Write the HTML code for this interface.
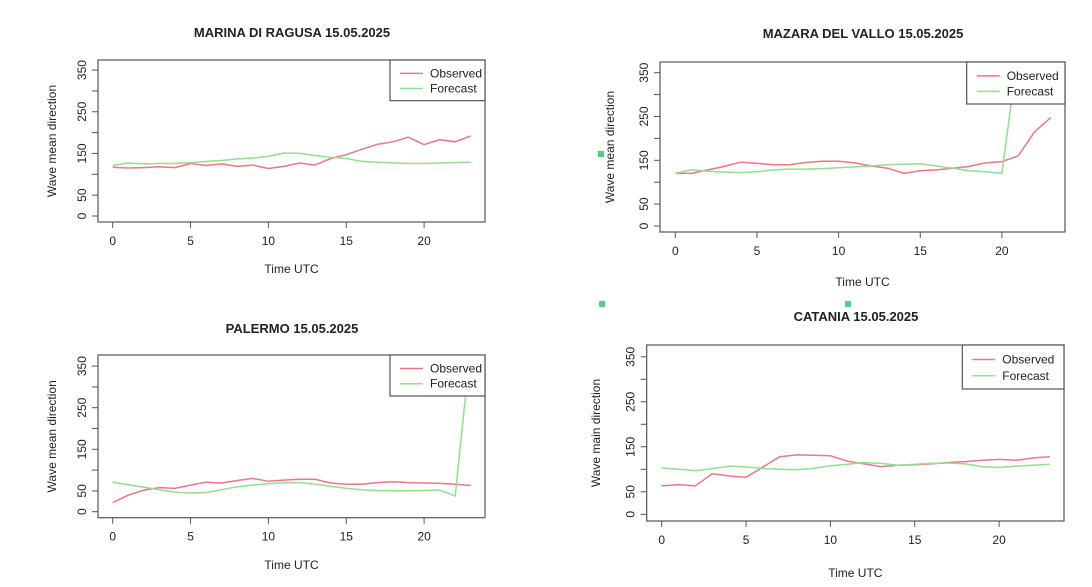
<!DOCTYPE html>
<html><head><meta charset="utf-8"><style>
html,body{margin:0;padding:0;background:#fff;width:1092px;height:587px;overflow:hidden}
svg{display:block}
text{font-family:"Liberation Sans",sans-serif;fill:#222}
</style></head><body>
<svg id="s" width="1092" height="587" xmlns="http://www.w3.org/2000/svg"></svg>
<script>
const P=[
{t:"MARINA DI RAGUSA 15.05.2025",tx:292,ty:37,L:98,R:485,T:60,B:222,x0:112.7,dx:15.57,y0:216,dy:0.417,lg:[390,60,485,100.7],xl:273,yl:56,yn:"Wave mean direction",
o:[117,115,116,118,116,126,121,125,119,122,114,119,127,122,138,147,160,172,178,189,171,183,178,192],
f:[121,127,125,126,126,128,131,133,137,139,143,151,150,145,141,138,131,129,127,126,126,127,128,129]},
{t:"MAZARA DEL VALLO 15.05.2025",tx:863,ty:38,L:660,R:1065,T:62,B:232,x0:675.3,dx:16.33,y0:226,dy:0.438,lg:[966.7,62,1065,104],xl:286,yl:614,yn:"Wave mean direction",
o:[120,120,128,136,146,143,140,140,145,148,148,144,137,132,120,126,128,132,136,144,147,160,215,248],
f:[120,128,125,123,122,124,128,130,130,131,133,135,137,140,141,142,137,132,126,124,120,400,400,400]},
{t:"PALERMO 15.05.2025",tx:292,ty:333,L:98,R:485,T:355,B:517.7,x0:112.7,dx:15.57,y0:511.7,dy:0.416,lg:[390,355,485,396],xl:569,yl:56,yn:"Wave mean direction",
o:[22,40,52,58,56,64,71,69,75,80,73,76,78,78,69,66,66,70,72,70,69,68,66,63],
f:[71,65,59,53,47,45,46,53,60,64,67,70,70,66,61,56,53,51,50,50,51,52,38,400]},
{t:"CATANIA 15.05.2025",tx:856,ty:321,L:646.7,R:1064,T:345,B:521,x0:661.7,dx:16.87,y0:514.3,dy:0.45,lg:[962.3,345,1064,389],xl:577,yl:600,yn:"Wave main direction",
o:[63,66,63,90,85,82,105,128,132,131,130,118,112,106,109,110,112,115,117,120,122,120,125,128],
f:[103,100,97,101,107,105,102,100,99,102,108,111,115,113,109,111,113,114,112,106,104,107,109,111]}];
let h="";
P.forEach((p,i)=>{
 h+=`<clipPath id="c${i}"><rect x="${p.L}" y="${p.T}" width="${p.R-p.L}" height="${p.B-p.T}"/></clipPath>`;
 h+=`<text x="${p.tx}" y="${p.ty}" text-anchor="middle" font-size="13" font-weight="bold">${p.t}</text>`;
 const pts=a=>a.map((v,k)=>(p.x0+k*p.dx).toFixed(1)+","+(p.y0-v*p.dy).toFixed(1)).join(" ");
 h+=`<g clip-path="url(#c${i})"><polyline points="${pts(p.o)}" fill="none" stroke="#f07585" stroke-width="1.5"/><polyline points="${pts(p.f)}" fill="none" stroke="#90e08c" stroke-width="1.5"/></g>`;
 h+=`<rect x="${p.L}" y="${p.T}" width="${p.R-p.L}" height="${p.B-p.T}" fill="none" stroke="#555" stroke-width="1.2"/>`;
 for(let v=0;v<=350;v+=50){const y=p.y0-v*p.dy;h+=`<line x1="${p.L-6}" x2="${p.L}" y1="${y}" y2="${y}" stroke="#555"/>`;
  if(v!=100&&v!=200&&v!=300)h+=`<text transform="translate(${p.L-12},${y}) rotate(-90)" text-anchor="middle" font-size="12">${v}</text>`;}
 for(let v=0;v<=20;v+=5){const x=p.x0+v*p.dx;h+=`<line x1="${x}" x2="${x}" y1="${p.B}" y2="${p.B+6}" stroke="#555"/><text x="${x}" y="${p.B+23}" text-anchor="middle" font-size="12">${v}</text>`;}
 h+=`<text x="${(p.L+p.R)/2}" y="${p.xl}" text-anchor="middle" font-size="12">Time UTC</text>`;
 h+=`<text transform="translate(${p.yl},${(p.T+p.B)/2}) rotate(-90)" text-anchor="middle" font-size="12">${p.yn}</text>`;
 const [a,b,c,d]=p.lg;
 h+=`<rect x="${a}" y="${b}" width="${c-a}" height="${d-b}" fill="#fff" stroke="#555" stroke-width="1.2"/>`;
 const ly1=b+(d-b)*0.33,ly2=b+(d-b)*0.7;
 h+=`<line x1="${a+10}" x2="${a+33}" y1="${ly1}" y2="${ly1}" stroke="#f07585" stroke-width="1.5"/><text x="${a+40}" y="${ly1+4}" font-size="12">Observed</text>`;
 h+=`<line x1="${a+10}" x2="${a+33}" y1="${ly2}" y2="${ly2}" stroke="#90e08c" stroke-width="1.5"/><text x="${a+40}" y="${ly2+4}" font-size="12">Forecast</text>`;
});
h+=`<rect x="598" y="151" width="6" height="6" fill="#4cd080"/><rect x="599" y="301" width="6" height="6" fill="#4cd080"/><rect x="845" y="301" width="6" height="6" fill="#4cd080"/>`;
document.getElementById("s").innerHTML=h;
</script>
</body></html>
